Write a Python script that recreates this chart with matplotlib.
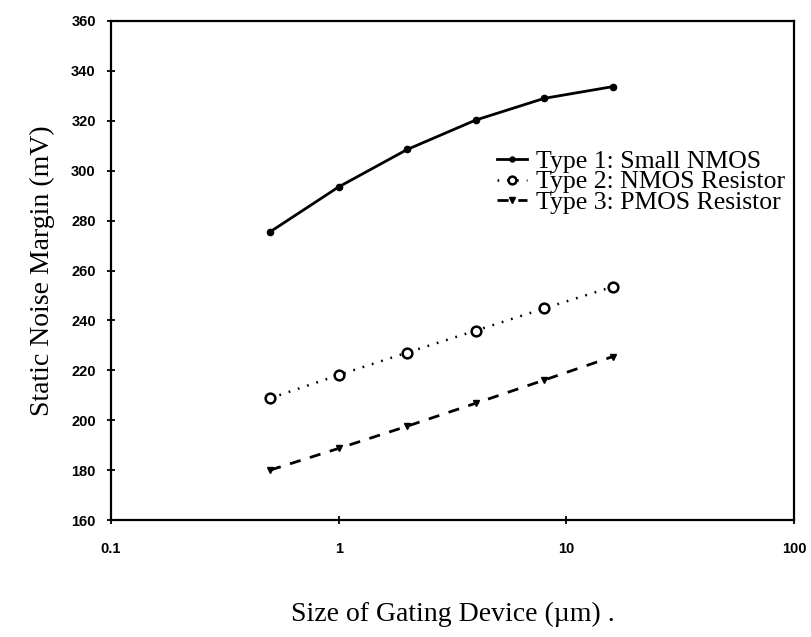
import numpy as np
import matplotlib
matplotlib.use('Agg')
import matplotlib.pyplot as plt

# gating device size (um) and static noise margin (mV)
size_um = [0.5, 1, 2, 4, 8, 16]
snm_type1 = [275.5, 293.5, 308.5, 320.3, 329.0, 333.7]
snm_type2 = [208.8, 218.1, 227.1, 235.9, 244.8, 253.5]
snm_type3 = [180.0, 188.7, 197.6, 206.8, 216.1, 225.5]

labels = ['Type 1: Small NMOS', 'Type 2: NMOS Resistor', 'Type 3: PMOS Resistor']
y_ticks = [160, 180, 200, 220, 240, 260, 280, 300, 320, 340, 360]
x_ticks = [0.1, 1, 10, 100]
x_tick_labels = ['0.1', '1', '10', '100']

serif = ['Liberation Serif', 'DejaVu Serif']
tick_font = ['Liberation Sans Narrow', 'Liberation Sans', 'DejaVu Sans']

fig = plt.figure(figsize=(8.12, 6.37), dpi=100)
ax = fig.add_axes([111 / 812, 1 - 520 / 637, 683 / 812, 499 / 637])

ax.plot(size_um, snm_type1, color='black', lw=2, marker='o', ms=4.5,
        label=labels[0])
ax.plot(size_um, snm_type2, color='black', lw=1.8, ls=(0, (0.7, 3.2)),
        marker='o', ms=7, mfc='white', mew=1.8, label=labels[1])
ax.plot(size_um, snm_type3, color='black', lw=2, ls=(0, (4, 3.5)),
        marker='v', ms=5, label=labels[2])

ax.set_xscale('log')
ax.set_xlim(0.1, 100)
ax.set_ylim(160, 360)
ax.set_xticks(x_ticks)
ax.set_xticklabels(x_tick_labels)
ax.xaxis.set_minor_locator(matplotlib.ticker.NullLocator())
ax.set_yticks(y_ticks)

for lab in ax.get_xticklabels() + ax.get_yticklabels():
    lab.set_family(tick_font)
    lab.set_fontweight('bold')
    lab.set_fontsize(10.5)
ax.tick_params(axis='y', direction='inout', length=6, width=1.3, pad=8)
ax.tick_params(axis='x', direction='inout', length=6, width=1.3, pad=13)
for sp in ax.spines.values():
    sp.set_linewidth(1.6)

ax.set_ylabel('Static Noise Margin (mV)', family=serif, fontsize=20)
ax.yaxis.set_label_coords(-0.082, 0.5)
ax.set_xlabel('Size of Gating Device (\u00b5m) .', family=serif, fontsize=20)
ax.xaxis.set_label_coords(0.5, -0.165)

# legend runs past the right edge of the figure, as in the scan
leg = ax.legend(loc='center left', bbox_to_anchor=(494 / 812, 1 - 182 / 637),
                bbox_transform=fig.transFigure, prop={'family': serif, 'size': 18.5},
                frameon=True, facecolor='white', edgecolor='none', framealpha=1,
                fancybox=False, handlelength=1.2, handletextpad=0.35,
                labelspacing=-0.1, borderpad=0.1, borderaxespad=0,
                markerscale=0.8)

plt.savefig('out.png', dpi=100)
